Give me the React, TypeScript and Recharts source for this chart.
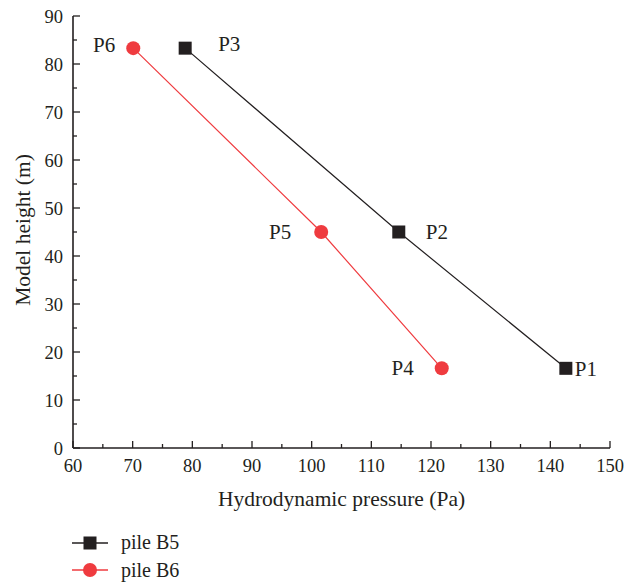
import React from "react";
import {
  LineChart,
  Line,
  XAxis,
  YAxis,
  Legend,
  LabelList,
  Label,
} from "recharts";

// pile B5 (black squares)
const b5Pressure = [142.6, 114.6, 78.8];
const b5Height = [16.6, 45.0, 83.3];
const b5Labels = ["P1", "P2", "P3"];

// pile B6 (red circles)
const b6Pressure = [121.8, 101.6, 70.1];
const b6Height = [16.6, 45.0, 83.3];
const b6Labels = ["P4", "P5", "P6"];

const xTicks = [60, 65, 70, 75, 80, 85, 90, 95, 100, 105, 110, 115, 120, 125, 130, 135, 140, 145, 150];
const yTicks = [0, 5, 10, 15, 20, 25, 30, 35, 40, 45, 50, 55, 60, 65, 70, 75, 80, 85, 90];

const BLACK = "#231F20";
const RED = "#EF3B3F";
const FONT = "'Liberation Serif', 'DejaVu Serif', serif";

// where each point label sits relative to its marker (dx, baseline dy, anchor)
const labelOffset: Record<string, [number, number, "start" | "end"]> = {
  P1: [9, 8, "start"],
  P2: [27, 7, "start"],
  P3: [33, 3, "start"],
  P4: [-28, 7, "end"],
  P5: [-30, 7, "end"],
  P6: [-18, 4, "end"],
};

const b5Data = b5Pressure.map((p, i) => ({ p, h: b5Height[i], name: b5Labels[i] }));
const b6Data = b6Pressure.map((p, i) => ({ p, h: b6Height[i], name: b6Labels[i] }));

const isMajor = (v: number) => v % 10 === 0;

const BottomTick = (props: any) => {
  const { x, y, payload } = props;
  const major = isMajor(payload.value);
  return (
    <g>
      <line x1={x} x2={x} y1={y} y2={y - (major ? 7 : 4)} stroke={BLACK} strokeWidth={1.3} />
      {major && (
        <text x={x} y={y + 24} textAnchor="middle" fontFamily={FONT} fontSize={18.5} fill={BLACK}>
          {payload.value}
        </text>
      )}
    </g>
  );
};

const TopTick = (props: any) => {
  const { x, y, payload } = props;
  const major = isMajor(payload.value);
  return <line x1={x} x2={x} y1={y} y2={y + (major ? 7 : 4)} stroke={BLACK} strokeWidth={1.3} />;
};

const LeftTick = (props: any) => {
  const { x, y, payload } = props;
  const major = isMajor(payload.value);
  return (
    <g>
      <line x1={x} x2={x + (major ? 7 : 4)} y1={y} y2={y} stroke={BLACK} strokeWidth={1.3} />
      {major && (
        <text x={x - 10} y={y + 6.5} textAnchor="end" fontFamily={FONT} fontSize={18.5} fill={BLACK}>
          {payload.value}
        </text>
      )}
    </g>
  );
};

const RightTick = (props: any) => {
  const { x, y, payload } = props;
  const major = isMajor(payload.value);
  return <line x1={x} x2={x - (major ? 7 : 4)} y1={y} y2={y} stroke={BLACK} strokeWidth={1.3} />;
};

const PointLabel = (props: any) => {
  const { x, y, value } = props;
  const [dx, dy, anchor] = labelOffset[value] || [10, 6, "start"];
  return (
    <text x={x + dx} y={y + dy} textAnchor={anchor} fontFamily={FONT} fontSize={21} fill={BLACK}>
      {value}
    </text>
  );
};

const SquareDot = (props: any) => {
  const { cx, cy } = props;
  if (cx == null || cy == null) return null;
  return <rect x={cx - 6.5} y={cy - 6.5} width={13} height={13} fill={BLACK} />;
};

const CircleDot = (props: any) => {
  const { cx, cy } = props;
  if (cx == null || cy == null) return null;
  return <circle cx={cx} cy={cy} r={7} fill={RED} />;
};

const LegendContent = () => (
  <div style={{ fontFamily: FONT, fontSize: 20, color: BLACK }}>
    {[
      { name: "pile B5", color: BLACK, square: true },
      { name: "pile B6", color: RED, square: false },
    ].map((e) => (
      <div key={e.name} style={{ display: "flex", alignItems: "center", height: 27.5 }}>
        <svg width={37} height={16} style={{ marginRight: 12 }}>
          <line x1={0} x2={36} y1={8} y2={8} stroke={e.color} strokeWidth={1.3} />
          {e.square ? (
            <rect x={11.5} y={1.5} width={13} height={13} fill={e.color} />
          ) : (
            <circle cx={18} cy={8} r={7} fill={e.color} />
          )}
        </svg>
        <span>{e.name}</span>
      </div>
    ))}
  </div>
);

export default function App() {
  return (
    <div style={{ position: "absolute", left: 0, top: 0, background: "#fff" }}>
      <LineChart width={635} height={582} margin={{ top: 16, right: 25, left: 0, bottom: 104 }}>
        <XAxis
          xAxisId="bottom"
          dataKey="p"
          type="number"
          domain={[60, 150]}
          ticks={xTicks}
          interval={0}
          tickSize={0}
          tickMargin={0}
          tick={<BottomTick />}
          axisLine={{ stroke: BLACK, strokeWidth: 1.6 }}
          height={30}
        >
          <Label
            content={(p: any) => {
              const vb = p.viewBox || {};
              const cx = (vb.x ?? 73) + (vb.width ?? 537) / 2;
              const by = (vb.y ?? 448) + 58;
              return (
                <text x={cx} y={by} textAnchor="middle" fontFamily={FONT} fontSize={21.5} fill={BLACK}>
                  Hydrodynamic pressure (Pa)
                </text>
              );
            }}
          />
        </XAxis>
        <XAxis
          xAxisId="top"
          orientation="top"
          dataKey="p"
          type="number"
          domain={[60, 150]}
          ticks={xTicks}
          interval={0}
          tickSize={0}
          tickMargin={0}
          tick={<TopTick />}
          axisLine={{ stroke: BLACK, strokeWidth: 1.6 }}
          height={0}
        />
        <YAxis
          yAxisId="left"
          dataKey="h"
          type="number"
          domain={[0, 90]}
          ticks={yTicks}
          interval={0}
          tickSize={0}
          tickMargin={0}
          tick={<LeftTick />}
          axisLine={{ stroke: BLACK, strokeWidth: 1.6 }}
          width={73}
        >
          <Label
            content={(p: any) => {
              const vb = p.viewBox || {};
              const cx = 29.5;
              const cy = (vb.y ?? 16) + (vb.height ?? 432) / 2 - 2;
              return (
                <text
                  x={cx}
                  y={cy}
                  transform={`rotate(-90, ${cx}, ${cy})`}
                  textAnchor="middle"
                  fontFamily={FONT}
                  fontSize={21.5}
                  fill={BLACK}
                >
                  Model height (m)
                </text>
              );
            }}
          />
        </YAxis>
        <YAxis
          yAxisId="right"
          orientation="right"
          dataKey="h"
          type="number"
          domain={[0, 90]}
          ticks={yTicks}
          interval={0}
          tickSize={0}
          tickMargin={0}
          tick={<RightTick />}
          axisLine={{ stroke: BLACK, strokeWidth: 1.6 }}
          width={0}
        />
        <Legend
          layout="vertical"
          align="center"
          verticalAlign="middle"
          content={<LegendContent />}
          wrapperStyle={{ position: "absolute", left: 72, top: 529, width: 200, height: 60 }}
        />
        <Line
          name="pile B5"
          data={b5Data}
          xAxisId="bottom"
          yAxisId="left"
          dataKey="h"
          stroke={BLACK}
          strokeWidth={1.2}
          dot={<SquareDot />}
          activeDot={false}
          isAnimationActive={false}
        >
          <LabelList dataKey="name" content={<PointLabel />} />
        </Line>
        <Line
          name="pile B6"
          data={b6Data}
          xAxisId="bottom"
          yAxisId="left"
          dataKey="h"
          stroke={RED}
          strokeWidth={1.2}
          dot={<CircleDot />}
          activeDot={false}
          isAnimationActive={false}
        >
          <LabelList dataKey="name" content={<PointLabel />} />
        </Line>
      </LineChart>
    </div>
  );
}
